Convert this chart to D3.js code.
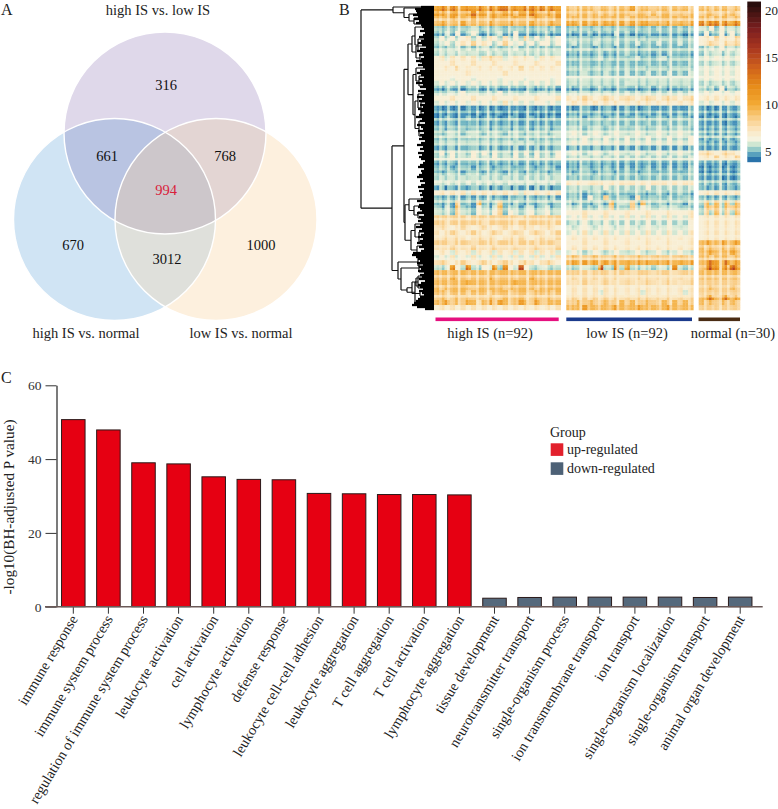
<!DOCTYPE html>
<html><head><meta charset="utf-8">
<script src="https://cdn.jsdelivr.net/npm/d3@7"></script>
<style>html,body{margin:0;padding:0;background:#fff}svg{display:block}text{font-family:"Liberation Serif",serif;fill:#222}</style>
</head><body><svg id="c" width="778" height="809"></svg>
<script>
// Panel A
const vennSets=["high IS vs. low IS","high IS vs. normal","low IS vs. normal"];
const vennCounts=[316,661,768,994,670,1000,3012];
// Panel B : heatmap cell codes read by eye, one string per row
const codeValues=[4.1,4.5,4.9,5.3,5.8,6.7,7.6,8.5,9.5,11,13.5,17];
const highRows=[
"9a9a99a9a9a9aa9a9aa9a9a9","9989989a9989899899a98989","888988898889888988898889","898889888898889888988898","323233242323323232233232",
"114151251012411511011201","353535635365363537353535","345356575653575453535535","232342323423233423232323","343434343343434343343434",
"564656564676645656546565","555655565556555655565556","556575656565656575656565","555555655555565555555555","555455545555455554555545",
"454545454545454545454545","102110121012011010201120","333435343343534334334343","555655565556555655565556","454545454545464545455454",
"101010110101011010101101","010101001010100101010010","012101210121012101210121","121212121212121212121212","231323132313231323132313",
"323432343234323432343234","232323232323232323232323","343434343434344343433434","121312131213121312131213","352534253525342535253425",
"343534353435343534353435","121212121212121212121212","232123212321232123212321","212321232123212321232123","343434343434343434343434",
"434343434343434343434343","130212031202130212031202","565656465656565646565656","212131212131212131212131",
"213172218213721321213213","314183115314823313413413","434274325435725434534534","777777677777777767777777","776777777677777677777767",
"676567656765676567656765","656765676567656765676567","667676567676567676567667","777677767776777677767776","666766676667666766676667",
"565465646564656465646564","454645464546454645464546","676567656765676567656765","324a53b3254a2a53b5324323","888888888888888888888888",
"888988888898888888988888","888888988888888988888888","878888878888878888878888","887888788878887888788878","787787877787787887787877",
"889787986897987898797888","565656565656565656565656"];
const lowRows=[
"878887887888978878878887","878878787888788787887878","888878888887888878888888","998989899898989989898989","232323232332232323232323",
"101120110412011210121101","232323232323323232332323","242324232423242324232423","212321232123212321232123","121212312123212212132121",
"232323423232342323423232","222322232223222322232223","232323232323233232323232","232423242324232423242324","343434343433434343434343",
"343434343434434343434343","101201210120101201201021","343434343434343434343434","656765676567656765676567","565656565656565656565656",
"101210121012101210121012","121212121212121212121212","232123212321232123212321","232323232323232323232323","343234323432343234323432",
"454345434543454345434543","343534353435343534353435","454545454545454545454545","131213121312131213121312","454345434543454345434543",
"343434343434343434343434","121212121212121212121212","121312131213121312131213","212321232123212321232123","232323232323232323232323",
"656566656566656566656566","343434353434343534343434","232123212321232123212321",
"232153272232162232232232","313213318243718322313213","434232437232735432434232",
"555655565556555655565556","454645464546454645464546","343534353435343534353435","434543454345434543454345",
"454645464546454645464546","565656565656565656565656","555655565556555655565556","565656565656565656565656",
"454345434543454345434543","787778777877787778777877","898989898989898989898989","323432b32a3a32432342a323",
"777767776777677767776777","676767676767676767676767","666766676667666766676667","565656565656565656565656",
"565656465656564656565646","676767676767676767676767","778787787787877877878787","888988888988898888898888"];
const normalRows=[
"88788878","78877887","88788878","a9aa9a9a","43525343","15125152","56575657","56765767","23435343","24342434",
"45454545","34343434","45454545","45454545","45454545","34343434","32315132","45454545","56565656","45454545",
"10101111","11011011","01101010","11111011","11212121","21212121","12121212","21212121","11111111","67656765",
"56575657","11111011","01010101","01011101","11110101","12111011","21212121","56565656","21212121","38383838",
"28783878","37383738","56565656","56565656","56565656","56565656","56565656","89889889","87878787","88988898","88788878","89a98a89",
"8aba9aba","88888888","88888888","77777777","77877787","77777777","89a89a89","87878787","77777777"];
// pale plaid lines seen in the heatmap: digit = how far a row/column fades toward cream
const rowPlaid="10200310012002100310020012004100200310010020030010203001002004100102003100200130021003001200310020010300210031002001300";
const highColPlaid="102003100400120030014002100030120004100201300200";
const lowColPlaid="020104002001300120040021003001020013000400210030";
const normalColPlaid="1030020140031002";
const colorStops=[3.8,4.4,5,5.7,6.3,7.2,8.5,10,12,14,16,18,20.3];
const colorValues=["#185d9b","#3a87b8","#7dbfc4","#cbe5d0","#f6f3e0","#fbe8c4","#f9cd87","#f3aa34","#e68a17","#cd5f1d","#a8351f","#7c1f1f","#33100f"];
const colorbarTicks=[5,10,15,20];
const groupLabels=["high IS (n=92)","low IS (n=92)","normal (n=30)"];
const groupColors=["#e5107f","#1b3a8c","#4a2c14"];
// Dendrogram : [merge height, child, child]; a number is a leaf's row position
const dendrogram=[72,
 [40,1,[29,2,[24,8,[19,12,18]]]],
 [41,
  [29,
   [25,
    [21,[18,21,[15,33,45]],[17,40,[13,48,56]]],
    [20,[17,62,[14,70,80]],[18,[15,88,[12,96,108]],[14,115,130]]]],
   [28,[24,193,[19,200,[15,206,212]]],[22,[18,218,[14,226,236]],[16,240,248]]]],
  [35,[15,252,260],
   [32,[14,258,266],
    [26,[21,[17,272,280],[13,285,290]],[18,[15,270,282],[10,292,301]]]]]]];
const leafDepth=[12,18,17,16,20,15,19,14,17,12,11,9,13,8,10,14,9,12,15,11,7,13,16,10,14,9,12,17,11,15,10,8,13,16,12,9,14,11,17,10,13,7,15,12,9,16,11,14,8,13,
10,15,12,9,14,17,11,13,8,16,12,10,15,9,13,11,14,8,12,16,10,13,9,15,11,14,12,8,10,13,15,9,12,11,14,16,10,13,8,12,15,9,14,11,13,10,12,16,9,14,
15,13,11,16,9,14,12,15,10,13,17,11,14,9,12,15,10,13,16,11,14,9,12,20,21,17,15,13,16,10,14,12,15,9,13,11,14,8,12,15,13,10,14,11,9,13,15,17,19,21,16,8];
// Panel C
const terms=["immune response","immune system process","regulation of immune system process","leukocyte activation","cell activation","lymphocyte activation","defense response","leukocyte cell-cell adhesion","leukocyte aggregation","T cell aggregation","T cell activation","lymphocyte aggregation","tissue development","neurotransmitter transport","single-organism process","ion transmembrane transport","ion transport","single-organism localization","single-organism transport","animal organ development"];
const pValues=[50.7,47.9,39.0,38.7,35.2,34.5,34.4,30.7,30.6,30.4,30.4,30.3,2.3,2.5,2.6,2.6,2.6,2.6,2.5,2.6];
const regulation=["up","up","up","up","up","up","up","up","up","up","up","up","down","down","down","down","down","down","down","down"];
const legendNames=["up-regulated","down-regulated"];
const regColors={up:"#e60012",down:"#55697c"};
const legendColors=["#e2202c","#4d6176"];

const svg=d3.select("#c");
const label=(t,x,y,size,anchor)=>svg.append("text").attr("x",x).attr("y",y).attr("font-size",size).attr("text-anchor",anchor||"start").text(t);
label("A",1,15,16);label("B",339,15,16);label("C",1,383,16);

// ---- Venn
const R=101,circles=[{x:165,y:133},{x:114.5,y:219.5},{x:216,y:219.5}];
const vf=["#dfd8ea","#d0e4f4","#fdf0de"];
const defs=svg.append("defs");
circles.forEach((c,i)=>defs.append("clipPath").attr("id","v"+i).append("circle").attr("cx",c.x).attr("cy",c.y).attr("r",R));
const va=svg.append("g");
circles.forEach((c,i)=>va.append("circle").attr("cx",c.x).attr("cy",c.y).attr("r",R).attr("fill",vf[i]));
const inter=(a,b,col)=>va.append("g").attr("clip-path",`url(#v${a})`).append("circle").attr("cx",circles[b].x).attr("cy",circles[b].y).attr("r",R).attr("fill",col);
inter(0,1,"#b9c4e2");inter(0,2,"#e3d5d3");inter(1,2,"#dfe0db");
va.append("g").attr("clip-path","url(#v0)").append("g").attr("clip-path","url(#v1)").append("circle").attr("cx",circles[2].x).attr("cy",circles[2].y).attr("r",R).attr("fill","#cdc7cb");
circles.forEach(c=>va.append("circle").attr("cx",c.x).attr("cy",c.y).attr("r",R).attr("fill","none").attr("stroke","#fff").attr("stroke-width",1.4));
const vennPos=[[166,90],[107,161],[225,161],[166,195],[73,250],[261,250],[167,264]];
vennCounts.forEach((n,i)=>{const t=label(n,vennPos[i][0],vennPos[i][1],14.5,"middle").style("fill","#111");if(n===994)t.style("fill","#d9203a");});
label(vennSets[0],158,15,14.5,"middle");label(vennSets[1],86,338,14.5,"middle");label(vennSets[2],241,338,14.5,"middle");

// ---- Heatmap
const color=d3.scaleLinear().domain(colorStops).range(colorValues).interpolate(d3.interpolateRgb);
const fineRows=d3.range(highRows.length*2);
const rowY=d3.scaleBand().domain(fineRows).range([6,310]);
const blocks=[{rows:highRows,plaid:highColPlaid,x0:434,x1:560.7,bar:[435.5,558.7],lx:490},{rows:lowRows,plaid:lowColPlaid,x0:566.3,x1:693.3,bar:[566.3,692],lx:627},{rows:normalRows,plaid:normalColPlaid,x0:698.7,x1:740,bar:[698.5,740],lx:733}];
const fx=defs.append("filter").attr("id","soft").attr("x",0).attr("y",0).attr("width",1).attr("height",1);
fx.append("feGaussianBlur").attr("stdDeviation",0.45);
const cream=6.5;
blocks.forEach((b,bi)=>{
  const g=svg.append("g").attr("filter","url(#soft)");
  const cx=d3.scaleBand().domain(d3.range(b.plaid.length)).range([b.x0,b.x1]);
  fineRows.forEach(r=>{
    const s=b.rows[Math.floor(r/2)];
    const rk=+(rowPlaid[r]||0);
    g.selectAll(null).data(Array.from(b.plaid)).join("rect")
      .attr("x",(d,i)=>cx(i)).attr("y",rowY(r)).attr("width",cx.bandwidth()+.3).attr("height",rowY.bandwidth()+.3)
      .attr("fill",(d,i)=>{
        const v=codeValues[parseInt(s[Math.floor(i/2)],16)];
        const k=Math.min(.8,(rk+ +d)*.16);
        return color(v+(cream-v)*k);
      });
  });
  svg.append("rect").attr("x",b.bar[0]).attr("y",317.5).attr("width",b.bar[1]-b.bar[0]).attr("height",3.6).attr("fill",groupColors[bi]);
  label(groupLabels[bi],b.lx,338,14.5,"middle");
});

// ---- Dendrogram
const hx=d3.scaleLinear().domain([0,72]).range([433,361]);
const py=d3.scaleLinear().domain([0,304]).range([6,310]);
const toNode=n=>Array.isArray(n)?{h:n[0],children:n.slice(1).map(toNode)}:{h:0,p:n};
const root=d3.hierarchy(toNode(dendrogram));
root.eachAfter(n=>{n.py=n.children?(n.children[0].py+n.children[n.children.length-1].py)/2:py(n.data.p);});
const dg=svg.append("g").attr("fill","none").attr("stroke","#111").attr("stroke-width",1.2);
dg.selectAll("path").data(root.descendants().filter(n=>n.children)).join("path")
  .attr("d",n=>{const x=hx(n.data.h);return n.children.map(c=>`M${hx(c.data.h)},${c.py}H${x}`).join("")+`M${x},${d3.min(n.children,c=>c.py)}V${d3.max(n.children,c=>c.py)}`;});
const leafY=d3.scaleBand().domain(d3.range(leafDepth.length)).range([6,310]);
svg.append("g").selectAll("line").data(leafDepth).join("line")
  .attr("x1",d=>hx(d)).attr("x2",hx(0)+1)
  .attr("y1",(d,i)=>leafY(i)+leafY.bandwidth()/2).attr("y2",(d,i)=>leafY(i)+leafY.bandwidth()/2)
  .attr("stroke","#000").attr("stroke-width",leafY.bandwidth()+.3);

// ---- Colorbar
const cbY=d3.scaleLinear().domain([5,20]).range([151,10]);
const steps=d3.range(3.85,20.4,0.55);
svg.append("g").selectAll("rect").data(steps).join("rect")
  .attr("x",747.3).attr("width",13.7).attr("y",d=>cbY(d+0.55)).attr("height",cbY(0)-cbY(0.55)+.4)
  .attr("fill",d=>color(d+.27));
colorbarTicks.forEach(t=>label(t,765,cbY(t)+4.5,13));

// ---- Bars
const x=d3.scaleBand().domain(terms).range([55.75,757.75]).paddingInner(.33).paddingOuter(.165);
const y=d3.scaleLinear().domain([0,60]).range([606.7,385.3]);
svg.append("g").selectAll("rect").data(terms).join("rect")
  .attr("x",d=>x(d)).attr("width",x.bandwidth())
  .attr("y",(d,i)=>y(pValues[i])).attr("height",(d,i)=>y(0)-y(pValues[i]))
  .attr("fill",(d,i)=>regColors[regulation[i]]).attr("stroke","#2a1a1a").attr("stroke-width",1);
const ya=svg.append("g").attr("transform","translate(56.5,0)").call(d3.axisLeft(y).tickValues([0,20,40,60]).tickSize(11).tickPadding(4).tickSizeOuter(0));
ya.select(".domain").attr("stroke","#333").attr("stroke-width",1.3);
ya.selectAll(".tick line").attr("stroke","#333").attr("stroke-width",1);
ya.selectAll(".tick text").attr("font-size",13.5).attr("font-family","Liberation Serif").style("fill","#333");
const xa=svg.append("g").attr("transform","translate(0,606.7)").call(d3.axisBottom(x).tickSize(7).tickSizeOuter(0).tickFormat(""));
xa.select(".domain").remove();
xa.selectAll(".tick line").attr("stroke","#333").attr("stroke-width",1);
svg.append("line").attr("x1",45).attr("x2",762.7).attr("y1",y(0)).attr("y2",y(0)).attr("stroke","#6b5a58").attr("stroke-width",1.4);
svg.append("g").selectAll("text").data(terms).join("text")
  .attr("text-anchor","end").attr("font-size",14.5)
  .attr("transform",d=>`translate(${x(d)+x.bandwidth()/2+5},619) rotate(-59)`).text(d=>d);
svg.append("text").attr("transform","translate(14,507) rotate(-90)").attr("text-anchor","middle").attr("font-size",15.2).text("-log10(BH-adjusted P value)");

// ---- Legend
label("Group",550,437,14);
legendNames.forEach((n,i)=>{
  svg.append("rect").attr("x",550.7).attr("y",443.3+i*19).attr("width",12.6).attr("height",12.6).attr("fill",legendColors[i]);
  label(n,567,454+i*19,14);
});
</script></body></html>
